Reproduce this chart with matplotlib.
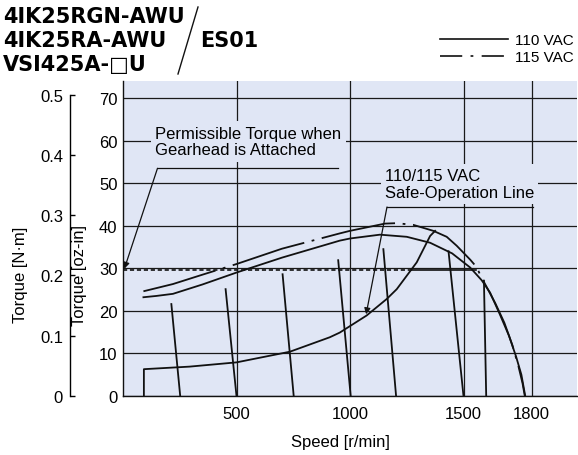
import matplotlib
matplotlib.use("Agg")
import matplotlib.pyplot as plt
from matplotlib.lines import Line2D

# ---------------- data (speed r/min, torque oz-in) ----------------
speed_110 = [90, 146, 220, 350, 500, 700, 955, 1000, 1132, 1250, 1353, 1450, 1529,
             1580, 1617, 1660, 1700, 1732, 1755, 1772]
torque_110 = [23.2, 23.5, 24.0, 26.2, 29.0, 32.5, 36.5, 37.0, 37.9, 37.4, 36.0, 33.5, 30.2,
              27.2, 24.3, 19.2, 14.2, 9.2, 5.0, 0.0]

speed_115 = [90, 220, 350, 500, 700, 955, 1000, 1154, 1205, 1279, 1367, 1426, 1470,
             1530, 1559, 1573, 1600, 1640, 1680, 1715, 1742, 1760, 1770]
torque_115 = [24.6, 26.3, 28.5, 31.0, 34.6, 38.2, 38.8, 40.5, 40.6, 40.2, 38.8, 37.4, 35.3,
              32.0, 30.2, 28.5, 25.8, 21.8, 17.2, 12.0, 7.0, 3.0, 0.0]

safe_speed = [92, 92, 293, 500, 735, 911, 955, 1073, 1162, 1206, 1294, 1353, 1375]
safe_torque = [0, 6.3, 6.9, 7.9, 10.4, 13.8, 14.9, 18.9, 22.8, 25.1, 31.4, 37.6, 38.8]

# speed-regulation lines: top point and zero-torque speed
reg_top_speed = [213, 452, 703, 948, 1147, 1434, 1590]
reg_top_torque = [21.6, 25.1, 28.6, 31.9, 34.5, 34.0, 27.1]
reg_zero_speed = [252, 500, 752, 1003, 1203, 1500, 1600]

gear_torque = 29.6          # permissible torque with gearhead
gear_dash_end = 1275
gear_solid_end = 1555

x_ticks = [500, 1000, 1500, 1800]
oz_ticks = [0, 10, 20, 30, 40, 50, 60, 70]
nm_ticks = [0, 0.1, 0.2, 0.3, 0.4, 0.5]
nm_labels = ["0", "0.1", "0.2", "0.3", "0.4", "0.5"]
OZIN_PER_NM = 141.612
Y_MAX = 74

# ---------------- style ----------------
plt.rcParams["font.family"] = ["Liberation Sans", "DejaVu Sans"]
plt.rcParams["lines.scale_dashes"] = False
FS = 12

BG = "#e0e6f5"
INK = "#111111"
LW = 1.3
DASHDOT = (0, (54, 5.5, 2, 5.5))

fig = plt.figure(figsize=(5.78, 4.56), dpi=100)
ax = fig.add_axes([123 / 578, 59 / 456, 454 / 578, 315 / 456])
ax.set_facecolor(BG)
ax.set_xlim(0, 2000)
ax.set_ylim(0, Y_MAX)

ax.set_xticks(x_ticks)
ax.set_yticks(oz_ticks)
ax.set_axisbelow(True)
ax.grid(True, color="#1a1a1a", lw=0.9)
ax.tick_params(length=0, labelsize=FS)
ax.tick_params(axis="x", pad=7)
ax.tick_params(axis="y", pad=4)
for s in ("top", "right"):
    ax.spines[s].set_visible(False)
for s in ("left", "bottom"):
    ax.spines[s].set_color(INK)
    ax.spines[s].set_linewidth(1.0)

ax.set_xlabel("Speed [r/min]", fontsize=FS)
ax.xaxis.set_label_coords(0.478, -0.122)
ax.set_ylabel("Torque [oz-in]", fontsize=FS)
ax.yaxis.set_label_coords(-0.079, 0.387)

# N·m axis as its own thin axes
ax_nm = fig.add_axes([70 / 578, 59 / 456, 0.001, 315 / 456])
ax_nm.patch.set_visible(False)
ax_nm.set_ylim(0, Y_MAX / OZIN_PER_NM)
for s in ("top", "right", "bottom"):
    ax_nm.spines[s].set_visible(False)
ax_nm.spines["left"].set_bounds(0, 0.5)
ax_nm.spines["left"].set_linewidth(1.0)
ax_nm.xaxis.set_visible(False)
ax_nm.set_yticks(nm_ticks)
ax_nm.set_yticklabels(nm_labels)
ax_nm.tick_params(axis="y", direction="in", length=3.5, width=1.0, pad=5, labelsize=FS)
ax_nm.set_ylabel("Torque [N·m]", fontsize=FS)
ax_nm.yaxis.set_label_coords(-(70 - 28) / (0.001 * 578), 0.387)

# ---------------- curves ----------------
ax.plot(speed_110, torque_110, color=INK, lw=LW, zorder=4)
ax.plot(speed_115, torque_115, color=INK, lw=LW, linestyle=DASHDOT, zorder=4)
ax.plot(safe_speed, safe_torque, color=INK, lw=LW, zorder=4)
for xt, yt, x0 in zip(reg_top_speed, reg_top_torque, reg_zero_speed):
    ax.plot([xt, x0], [yt, 0], color=INK, lw=LW, zorder=4)

ax.plot([0, gear_dash_end], [gear_torque, gear_torque], color=INK, lw=1.2,
        linestyle=(0, (3, 2)), zorder=4)
ax.plot([gear_dash_end, gear_solid_end], [gear_torque, gear_torque], color=INK, lw=1.2, zorder=4)

# ---------------- annotations ----------------
box = dict(facecolor=BG, edgecolor="none", pad=3)
arrow = dict(arrowstyle="-|>", color=INK, lw=0.9, mutation_scale=9, shrinkA=0, shrinkB=0)

ax.text(143, 59.8, "Permissible Torque when\nGearhead is Attached", fontsize=FS,
        ha="left", va="center", linespacing=1.15, bbox=box, zorder=3)
ax.plot([152, 947], [53.5, 53.5], color=INK, lw=0.9, zorder=3)
ax.annotate("", xy=(6, gear_torque + 0.3), xytext=(152, 53.5), arrowprops=arrow, zorder=5)

ax.text(1154, 49.8, "110/115 VAC\nSafe-Operation Line", fontsize=FS,
        ha="left", va="center", linespacing=1.15, bbox=box, zorder=3)
ax.plot([1163, 1807], [44.4, 44.4], color=INK, lw=0.9, zorder=3)
ax.annotate("", xy=(1071, 19.2), xytext=(1163, 44.4), arrowprops=arrow, zorder=5)

# ---------------- legend ----------------
handles = [Line2D([], [], color=INK, lw=1.2),
           Line2D([], [], color=INK, lw=1.2, linestyle=(0, (16, 6, 2, 6)))]
fig.legend(handles, ["110 VAC", "115 VAC"], loc="upper right",
           bbox_to_anchor=(0.993, 0.925), frameon=False, fontsize=11,
           handlelength=4.4, handletextpad=0.5, labelspacing=0.2,
           borderpad=0, borderaxespad=0)

# ---------------- model title ----------------
title_kw = dict(fontsize=15, fontweight="bold", va="center", ha="left",
                family=["DejaVu Sans"])
fig.text(3 / 578, 1 - 17 / 456, "4IK25RGN-AWU", **title_kw)
fig.text(3 / 578, 1 - 41 / 456, "4IK25RA-AWU", **title_kw)
fig.text(3 / 578, 1 - 65 / 456, "VSI425A-\u25a1U", **title_kw)
fig.text(200 / 578, 1 - 41 / 456, "ES01", **title_kw)
fig.add_artist(Line2D([198 / 578, 178 / 578], [1 - 8 / 456, 1 - 75 / 456],
                      transform=fig.transFigure, color=INK, lw=1.0))

fig.savefig("out.png", dpi=100)
